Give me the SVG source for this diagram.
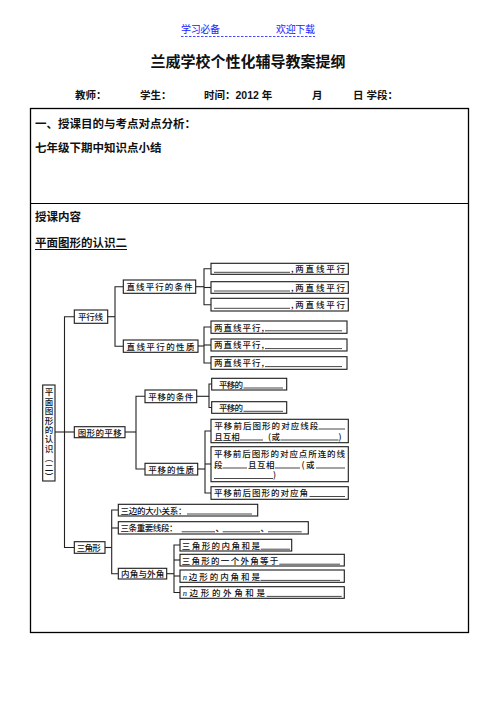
<svg xmlns="http://www.w3.org/2000/svg" width="496" height="702" viewBox="0 0 496 702">
<style>
.hd{font-family:"Liberation Sans","Noto Sans CJK SC",sans-serif;font-weight:700;fill:#111}
.bl{font-family:"Liberation Sans","Noto Sans CJK SC",sans-serif;font-size:10px;fill:#1a1aff}
.t{font-family:"Noto Sans CJK SC",sans-serif;font-size:8.5px;font-weight:500;fill:#111}
.bx{fill:#fff;stroke:#1a1a1a;stroke-width:1.1}
.ln{fill:none;stroke:#222;stroke-width:1.1}
.bk{fill:none;stroke:#333;stroke-width:0.9}
</style>
<rect width="496" height="702" fill="#fff"/>
<g id="header">
<text class="bl" x="181" y="33" textLength="39">学习必备</text>
<text class="bl" x="276" y="33" textLength="39">欢迎下载</text>
<line x1="181" y1="36.5" x2="315" y2="36.5" stroke="#1a1aff" stroke-width="0.8" stroke-dasharray="2.5,1.5"/>
<text class="hd" x="248" y="67" font-size="15" text-anchor="middle">兰威学校个性化辅导教案提纲</text>
<text class="hd" x="75" y="99" font-size="10.5">教师：</text>
<text class="hd" x="140" y="99" font-size="10.5">学生：</text>
<text class="hd" x="204" y="99" font-size="10.5">时间：2012 年</text>
<text class="hd" x="312" y="99" font-size="10.5">月</text>
<text class="hd" x="353" y="99" font-size="10.5">日 学段：</text>
</g>
<g id="table">
<rect x="30.5" y="108.5" width="438" height="524" fill="none" stroke="#000" stroke-width="1.3"/>
<line x1="30.5" y1="203.5" x2="468.5" y2="203.5" stroke="#000" stroke-width="1.1"/>
<text class="hd" x="35" y="128" font-size="11.5">一、授课目的与考点对点分析：</text>
<text class="hd" x="35" y="152" font-size="11.5">七年级下期中知识点小结</text>
<text class="hd" x="35" y="221" font-size="11.5">授课内容</text>
<text class="hd" x="35" y="247" font-size="11.5">平面图形的认识二</text>
<line x1="35" y1="249.5" x2="127" y2="249.5" stroke="#111" stroke-width="1"/>
</g>
<g id="connectors">
<polyline class="ln" points="74.3,316.7 64.5,316.7 64.5,547.5 74.3,547.5"/>
<line class="ln" x1="55" y1="432" x2="74.3" y2="432"/>
<line class="ln" x1="107.7" y1="316.7" x2="115" y2="316.7"/>
<polyline class="ln" points="123.3,286.7 115,286.7 115,346.2 123.3,346.2"/>
<line class="ln" x1="195.7" y1="286.7" x2="204" y2="286.7"/>
<polyline class="ln" points="211,268.8 204,268.8 204,304.7 211,304.7"/>
<line class="ln" x1="204" y1="287.5" x2="211" y2="287.5"/>
<line class="ln" x1="198" y1="346" x2="204" y2="346"/>
<polyline class="ln" points="211,327 204,327 204,363 211,363"/>
<line class="ln" x1="204" y1="345" x2="211" y2="345"/>
<line class="ln" x1="125" y1="432" x2="136" y2="432"/>
<polyline class="ln" points="145,396.3 136,396.3 136,469 145,469"/>
<line class="ln" x1="196.7" y1="396.3" x2="209" y2="396.3"/>
<polyline class="ln" points="211.7,384 209,384 209,407.5 211.7,407.5"/>
<line class="ln" x1="197.7" y1="469" x2="205" y2="469"/>
<polyline class="ln" points="211,431 205,431 205,493 211,493"/>
<line class="ln" x1="205" y1="464" x2="211" y2="464"/>
<line class="ln" x1="105" y1="547.5" x2="111.7" y2="547.5"/>
<polyline class="ln" points="118.3,510 111.7,510 111.7,573.7 118.3,573.7"/>
<line class="ln" x1="111.7" y1="528" x2="118.3" y2="528"/>
<line class="ln" x1="166.7" y1="573.7" x2="174" y2="573.7"/>
<polyline class="ln" points="180,545 174,545 174,592.5 180,592.5"/>
<line class="ln" x1="174" y1="560" x2="180" y2="560"/>
<line class="ln" x1="174" y1="576" x2="180" y2="576"/>
</g>
<g id="n-root">
<rect class="bx" x="42.7" y="385" width="12.3" height="96"/>
<text class="t" x="49" y="388" font-size="8.5" writing-mode="vertical-rl" letter-spacing="0.9">平面图形的认识（二）</text>
</g>
<g id="n-pxx"><rect class="bx" x="74.3" y="310" width="33.4" height="13.3"/><text class="t" x="78" y="320" textLength="25">平行线</text></g>
<g id="n-tj1"><rect class="bx" x="123.3" y="280" width="72.4" height="13.3"/><text class="t" x="126.5" y="290" textLength="66">直线平行的条件</text></g>
<g id="n-xz1"><rect class="bx" x="123.3" y="340" width="74.7" height="12.3"/><text class="t" x="126.5" y="349.5" textLength="68">直线平行的性质</text></g>
<g id="n-a1"><rect class="bx" x="211" y="263.3" width="137.3" height="11"/><line class="bk" x1="214" y1="272.3" x2="290" y2="272.3"/><text class="t" x="291" y="272" textLength="54">,两直线平行</text></g>
<g id="n-a2"><rect class="bx" x="211" y="281.7" width="137.3" height="11.6"/><line class="bk" x1="214" y1="291" x2="290" y2="291"/><text class="t" x="291" y="290.7" textLength="54">,两直线平行</text></g>
<g id="n-a3"><rect class="bx" x="211" y="298.3" width="137.3" height="12.7"/><line class="bk" x1="214" y1="308.3" x2="290" y2="308.3"/><text class="t" x="291" y="308" textLength="54">,两直线平行</text></g>
<g id="n-b1"><rect class="bx" x="211" y="321" width="136" height="12.3"/><text class="t" x="214" y="330.5" textLength="50">两直线平行,</text><line class="bk" x1="265" y1="330.8" x2="342" y2="330.8"/></g>
<g id="n-b2"><rect class="bx" x="211" y="339" width="136" height="12"/><text class="t" x="214" y="348.3" textLength="50">两直线平行,</text><line class="bk" x1="265" y1="348.6" x2="342" y2="348.6"/></g>
<g id="n-b3"><rect class="bx" x="211" y="356.7" width="136" height="12.6"/><text class="t" x="214" y="366.3" textLength="50">两直线平行,</text><line class="bk" x1="265" y1="366.6" x2="342" y2="366.6"/></g>
<g id="n-py"><rect class="bx" x="74.3" y="426.7" width="50.7" height="11"/><text class="t" x="77.7" y="435.5" textLength="44">图形的平移</text></g>
<g id="n-tj2"><rect class="bx" x="145" y="390" width="51.7" height="12.7"/><text class="t" x="148.3" y="399.8" textLength="45">平移的条件</text></g>
<g id="n-xz2"><rect class="bx" x="145" y="463.3" width="52.7" height="11.7"/><text class="t" x="148.3" y="472.5" textLength="45.7">平移的性质</text></g>
<g id="n-c1"><rect class="bx" x="211.7" y="378.3" width="75" height="11.7"/><text class="t" x="219" y="387.5" textLength="24">平移的</text><line class="bk" x1="243.5" y1="388" x2="283" y2="388"/></g>
<g id="n-c2"><rect class="bx" x="211.7" y="401.7" width="75" height="11.6"/><text class="t" x="219" y="410.8" textLength="24">平移的</text><line class="bk" x1="243.5" y1="411.3" x2="283" y2="411.3"/></g>
<g id="n-d1"><rect class="bx" x="211" y="419.3" width="137.3" height="23.4"/>
<text class="t" x="214.3" y="428.5" textLength="104">平移前后图形的对应线段</text><line class="bk" x1="318.5" y1="429" x2="345" y2="429"/>
<text class="t" x="214.3" y="439.5" textLength="25.5">且互相</text><line class="bk" x1="240" y1="440" x2="263" y2="440"/>
<text class="t" x="268" y="439.5" textLength="12">(或</text><line class="bk" x1="280.5" y1="440" x2="338.5" y2="440"/>
<text class="t" x="338.5" y="439.5">)</text></g>
<g id="n-d2"><rect class="bx" x="211" y="446.7" width="137.3" height="35"/>
<text class="t" x="214" y="456.8" textLength="131">平移前后图形的对应点所连的线</text>
<text class="t" x="214" y="467.5">段</text><line class="bk" x1="222.5" y1="468" x2="247" y2="468"/>
<text class="t" x="248" y="467.5" textLength="26.5">且互相</text><line class="bk" x1="275" y1="468" x2="300" y2="468"/>
<text class="t" x="301.5" y="467.5" textLength="13">(或</text><line class="bk" x1="316" y1="468" x2="345" y2="468"/>
<line class="bk" x1="214" y1="478.5" x2="273" y2="478.5"/><text class="t" x="273" y="478">)</text></g>
<g id="n-d3"><rect class="bx" x="211" y="486.7" width="137.3" height="12.6"/><text class="t" x="214" y="496" textLength="94">平移前后图形的对应角</text><line class="bk" x1="309.5" y1="496.5" x2="345" y2="496.5"/></g>
<g id="n-sjx"><rect class="bx" x="74.3" y="541.7" width="30.7" height="11.6"/><text class="t" x="76.7" y="551" textLength="24">三角形</text></g>
<g id="n-e1"><rect class="bx" x="118.3" y="504.3" width="139.4" height="11.7"/><text class="t" x="120.5" y="513.5" textLength="66">三边的大小关系：</text><line class="bk" x1="187" y1="514" x2="252" y2="514"/></g>
<g id="n-e2"><rect class="bx" x="118.3" y="521.7" width="190" height="12.3"/><text class="t" x="120.5" y="531.3" textLength="57">三条重要线段：</text>
<line class="bk" x1="181.7" y1="531.8" x2="215" y2="531.8"/><text class="t" x="215.5" y="531.3">、</text>
<line class="bk" x1="222.7" y1="531.8" x2="260" y2="531.8"/><text class="t" x="260.5" y="531.3">、</text>
<line class="bk" x1="268" y1="531.8" x2="301.7" y2="531.8"/></g>
<g id="n-nj"><rect class="bx" x="118.3" y="568.3" width="48.4" height="10.7"/><text class="t" x="121" y="577" textLength="43.3">内角与外角</text></g>
<g id="n-f1"><rect class="bx" x="180" y="539.3" width="111.7" height="11.7"/><text class="t" x="181.7" y="548.8" textLength="78.3">三角形的内角和是</text><line class="bk" x1="260.7" y1="549.2" x2="290" y2="549.2"/></g>
<g id="n-f2"><rect class="bx" x="180" y="554.3" width="164.3" height="11.7"/><text class="t" x="181.7" y="563.8" textLength="96.6">三角形的一个外角等于</text><line class="bk" x1="279.3" y1="564.2" x2="340" y2="564.2"/></g>
<g id="n-f3"><rect class="bx" x="180" y="570" width="164.3" height="12.3"/><text class="t" x="182.7" y="580" textLength="77.3"><tspan font-style="italic" font-family="Liberation Serif,serif">n</tspan>边形的内角和是</text><line class="bk" x1="260.5" y1="580.4" x2="340" y2="580.4"/></g>
<g id="n-f4"><rect class="bx" x="180" y="586.7" width="164.3" height="11.6"/><text class="t" x="182.7" y="596" textLength="82.3"><tspan font-style="italic" font-family="Liberation Serif,serif">n</tspan>边形的外角和是</text><line class="bk" x1="266.7" y1="596.4" x2="341.7" y2="596.4"/></g>
</svg>
